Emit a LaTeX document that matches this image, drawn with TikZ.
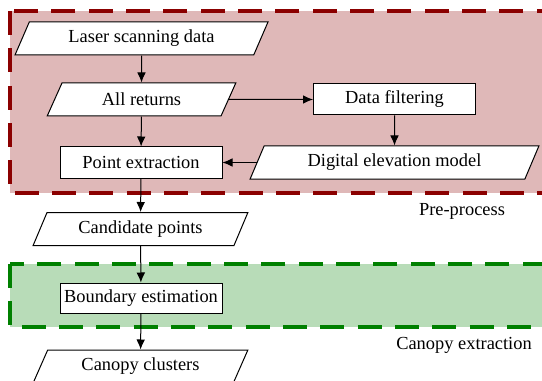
\documentclass[tikz,border=0pt]{standalone}
\usepackage{fontspec}
\newfontfamily\flowfont{LiberationSerif}[Extension=.ttf,UprightFont=*-Regular]
\usetikzlibrary{shapes.geometric,arrows.meta}
\pgfdeclarelayer{framelayer}
\pgfdeclarelayer{edgelayer}
\pgfdeclarelayer{nodelayer}
\pgfsetlayers{framelayer,edgelayer,nodelayer,main}
\definecolor{framered}{rgb}{0.545,0,0}
\definecolor{framegreen}{rgb}{0,0.5,0}
\tikzstyle{data}=[trapezium,trapezium left angle=64,trapezium right angle=116,trapezium stretches=true,draw=black,fill=white,line width=0.75pt,minimum height=24.75pt,inner sep=1pt]
\tikzstyle{process}=[rectangle,draw=black,fill=white,line width=0.75pt,minimum width=121.5pt,minimum height=23.25pt,inner sep=1pt]
\tikzstyle{inarrow}=[->, >={Latex[length=7.5pt,width=6.5pt]}, line width=0.75pt]
\tikzstyle{stage}=[line width=3pt, dash pattern=on 18pt off 10pt]
\tikzstyle{caption}=[inner sep=0pt]

\begin{document}
\begin{tikzpicture}[x=0.75pt,y=-0.75pt,font=\flowfont\fontsize{13.8}{16}\selectfont]
	\useasboundingbox (0,0) rectangle (542,381);
	\clip (0,0) rectangle (542,381);
	\begin{pgfonlayer}{framelayer}
		\draw [style=stage, draw=framered, fill=framered, fill opacity=0.28] (10, 11) rectangle (570, 193);
		\draw [style=stage, draw=framegreen, fill=framegreen, fill opacity=0.28] (10, 264) rectangle (570, 327);
	\end{pgfonlayer}
	\begin{pgfonlayer}{nodelayer}
		\node [style=data, minimum width=189.75pt] (scan) at (141.5, 38.5) {Laser scanning data};
		\node [style=data, minimum width=141.75pt] (returns) at (141.5, 99.5) {All returns};
		\node [style=process] (extract) at (141, 162.5) {Point extraction};
		\node [style=process] (filter) at (394.5, 99.5) {Data filtering};
		\node [style=data, minimum width=216.75pt] (dem) at (394.5, 162.5) {Digital elevation model};
		\node [style=data, minimum width=161.25pt] (candidate) at (140.5, 229) {Candidate points};
		\node [style=process, minimum height=22.5pt] (boundary) at (141, 298) {Boundary estimation};
		\node [style=data, minimum width=161.25pt] (clusters) at (140.5, 366.5) {Canopy clusters};
		\node [style=caption] (pre) at (462, 211) {Pre-process};
		\node [style=caption] (canopy) at (464, 345) {Canopy extraction};
	\end{pgfonlayer}
	\begin{pgfonlayer}{edgelayer}
		\draw [style=inarrow] (scan) to (returns);
		\draw [style=inarrow] (returns) to (extract);
		\draw [style=inarrow] (returns) to (filter);
		\draw [style=inarrow] (filter) to (dem);
		\draw [style=inarrow] (dem) to (extract);
		\draw [style=inarrow] (extract) to (candidate);
		\draw [style=inarrow] (candidate) to (boundary);
		\draw [style=inarrow] (boundary) to (clusters);
	\end{pgfonlayer}
\end{tikzpicture}
\end{document}
